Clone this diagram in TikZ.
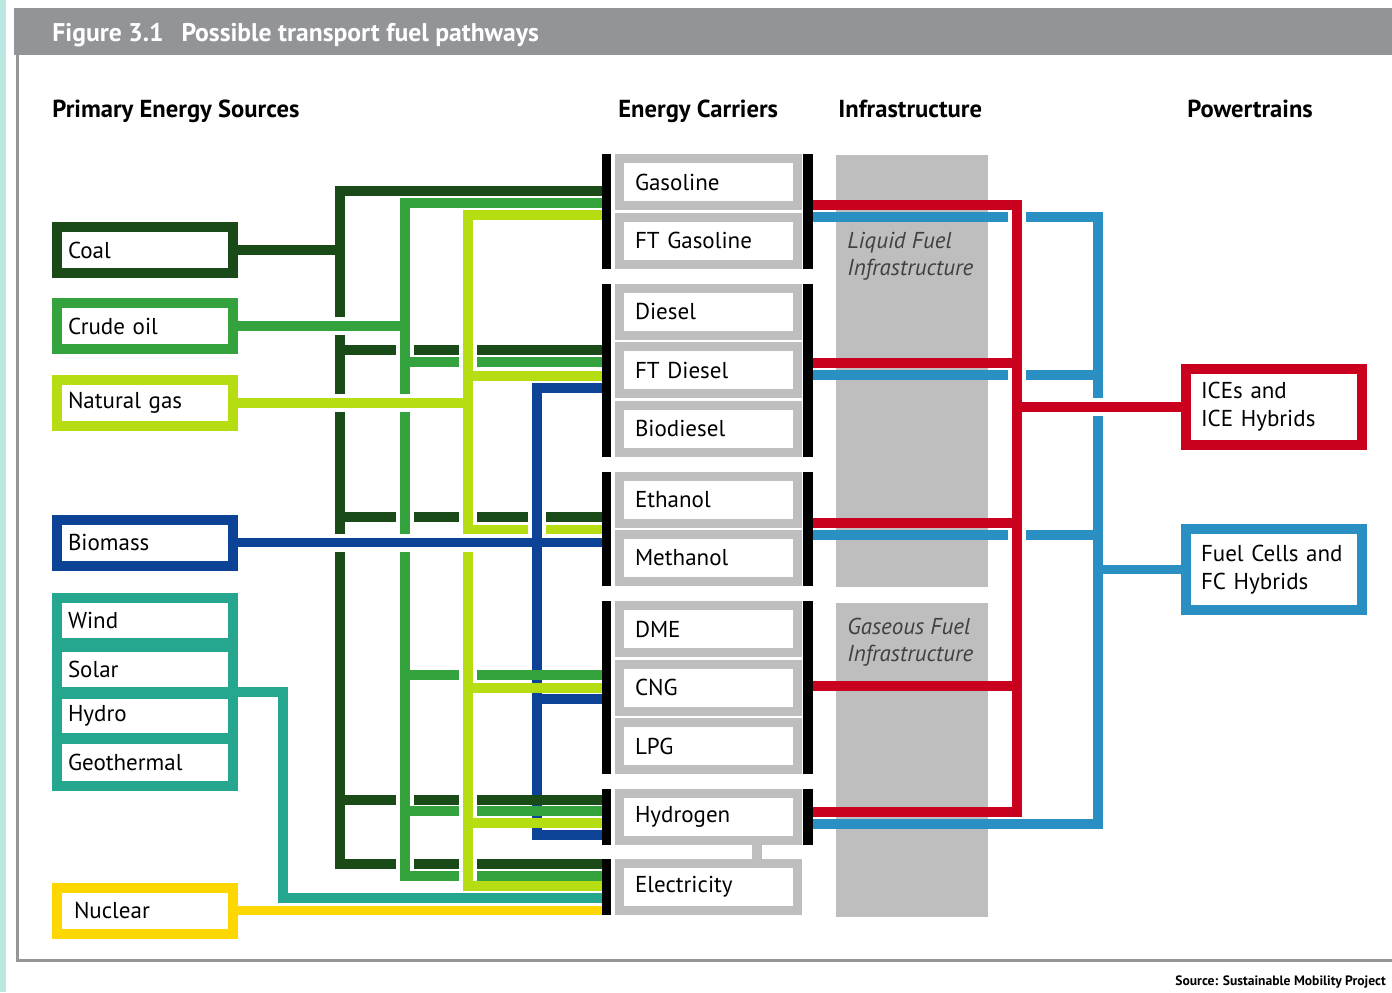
\documentclass[tikz,border=0pt]{standalone}
\usepackage{fontspec}
\setmainfont{PT Sans}
\usetikzlibrary{positioning}

\definecolor{coalgreen}{RGB}{27,74,25}
\definecolor{oilgreen}{RGB}{52,162,61}
\definecolor{gaslime}{RGB}{181,221,18}
\definecolor{biomassblue}{RGB}{12,67,151}
\definecolor{renewteal}{RGB}{37,166,143}
\definecolor{nuclearyellow}{RGB}{255,215,0}
\definecolor{fuelred}{RGB}{201,0,30}
\definecolor{fuelblue}{RGB}{42,143,194}
\definecolor{boxgray}{RGB}{190,190,190}
\definecolor{headgray}{RGB}{147,148,152}
\definecolor{framegray}{RGB}{150,150,152}
\definecolor{stripcyan}{RGB}{188,230,226}

\begin{document}
\begin{tikzpicture}[%
  x=0.5pt, y=-0.5pt,
  every node/.style={font=\fontsize{11.5}{13.5}\selectfont},
  colhead/.style={anchor=base west, inner sep=0pt, font=\bfseries\fontsize{12.3}{14}\selectfont},
  srcbox/.style={draw=#1, line width=5pt, fill=white, minimum width=88pt, minimum height=23pt,
    inner xsep=5.5pt, inner ysep=0pt, text width=77pt, align=left},
  renewable/.style={fill=white, minimum width=83pt, inner xsep=3pt, inner ysep=0pt,
    text width=77pt, align=left, outer sep=0pt},
  carrier/.style={draw=boxgray, line width=4.5pt, fill=white, minimum width=89pt, minimum height=23.5pt,
    inner xsep=7.75pt, inner ysep=0pt, text width=73.5pt, align=left},
  lbar/.style={fill=black, minimum width=4.5pt, inner sep=0pt, outer sep=0pt, anchor=north east},
  rbar/.style={fill=black, minimum width=5pt, inner sep=0pt, outer sep=0pt, anchor=north west},
  infra/.style={fill=boxgray, minimum width=76pt, inner sep=0pt, outer sep=0pt},
  infralabel/.style={anchor=north west, align=left, inner sep=0pt, text=black!75,
    font=\itshape\fontsize{11.5}{13.5}\selectfont},
  powertrain/.style={draw=#1, line width=5pt, fill=white, minimum width=88pt, inner xsep=7.5pt,
    text width=73pt, align=left, font=\fontsize{11.5}{14}\selectfont},
  flow/.style={#1, line width=4.75pt},
  knockout/.style={white, line width=9pt},
]

  \useasboundingbox (0,0) rectangle (1392,992);
  \clip (0,0) rectangle (1392,992);

  % frame
  \fill[white] (0,0) rectangle (1392,992);
  \fill[stripcyan] (0,0) rectangle (6,992);
  \fill[headgray] (14,8) rectangle (1392,55);
  \draw[framegray, line width=1.5pt] (17.5,55) -- (17.5,960) -- (1392,960);

  \node[anchor=base west, inner sep=0pt, text=white, font=\bfseries\fontsize{12.8}{14}\selectfont] (title)
    at (52,41) {Figure 3.1\hspace{0.7em}Possible transport fuel pathways};

  \node[colhead] (hsources) at (52,117) {Primary Energy Sources};
  \node[colhead] (hcarriers) at (618,117) {Energy Carriers};
  \node[colhead] (hinfra) at (838,117) {Infrastructure};
  \node[colhead] (hpower) at (1187,117) {Powertrains};

  % primary energy sources
  \node[srcbox=coalgreen] (coal) at (145,250) {Coal};
  \node[srcbox=oilgreen] (crude) at (145,326) {Crude oil};
  \node[srcbox=gaslime] (natgas) at (145,403) {Natural gas};
  \node[srcbox=biomassblue] (biomass) at (145,542.5) {Biomass};
  \node[fill=renewteal, minimum width=93pt, minimum height=99pt, inner sep=0pt, outer sep=0pt]
    (renew) at (145,692) {};
  \node[renewable, minimum height=17.5pt] (wind) at (145,620.5) {Wind};
  \node[renewable, minimum height=17.5pt] (solar) at (145,669.5) {Solar};
  \node[renewable, minimum height=17pt] (hydro) at (145,716) {Hydro};
  \node[renewable, minimum height=18.5pt] (geo) at (145,762.5) {Geothermal};
  \node[srcbox=nuclearyellow] (nuclear) at (145,910.5) {\hspace{3pt}Nuclear};

  % infrastructure
  \node[infra, minimum height=216pt] (liquid) at (912,371) {};
  \node[infra, minimum height=157pt] (gaseous) at (912,760) {};
  \node[infralabel] (liquidlbl) at ([xshift=5.5pt,yshift=-38.5pt]liquid.north west)
    {Liquid Fuel\\Infrastructure};
  \node[infralabel] (gaseouslbl) at ([xshift=5.5pt,yshift=-7.5pt]gaseous.north west)
    {Gaseous Fuel\\Infrastructure};

  % energy carriers
  \node[carrier] (gasoline) at (708.5,182) {Gasoline};
  \node[carrier, below=1.25pt of gasoline] (ftgasoline) {FT Gasoline};
  \node[carrier, below=7.5pt of ftgasoline] (diesel) {Diesel};
  \node[carrier, below=1.25pt of diesel] (ftdiesel) {FT Diesel};
  \node[carrier, below=1.25pt of ftdiesel] (biodiesel) {Biodiesel};
  \node[carrier, below=7.5pt of biodiesel] (ethanol) {Ethanol};
  \node[carrier, below=1.25pt of ethanol] (methanol) {Methanol};
  \node[carrier, below=7.5pt of methanol] (dme) {DME};
  \node[carrier, below=1.25pt of dme] (cng) {CNG};
  \node[carrier, below=1.25pt of cng] (lpg) {LPG};
  \node[carrier, below=7.5pt of lpg] (hydrogen) {Hydrogen};
  \node[carrier, below=7pt of hydrogen] (electricity) {Electricity};
  \draw[boxgray, line width=5pt] ([xshift=24.25pt]hydrogen.south) -- ([xshift=24.25pt]electricity.north);

  \node[lbar, minimum height=57.25pt] (lb1) at ([xshift=-2pt]gasoline.north west) {};
  \node[lbar, minimum height=86.5pt] (lb2) at ([xshift=-2pt]diesel.north west) {};
  \node[lbar, minimum height=57.25pt] (lb3) at ([xshift=-2pt]ethanol.north west) {};
  \node[lbar, minimum height=86.5pt] (lb4) at ([xshift=-2pt]dme.north west) {};
  \node[lbar, minimum height=28pt] (lb5) at ([xshift=-2pt]hydrogen.north west) {};
  \node[lbar, minimum height=28pt] (lb6) at ([xshift=-2pt]electricity.north west) {};
  \node[rbar, minimum height=57.25pt] (rb1) at ([xshift=0.5pt]gasoline.north east) {};
  \node[rbar, minimum height=86.5pt] (rb2) at ([xshift=0.5pt]diesel.north east) {};
  \node[rbar, minimum height=57.25pt] (rb3) at ([xshift=0.5pt]ethanol.north east) {};
  \node[rbar, minimum height=86.5pt] (rb4) at ([xshift=0.5pt]dme.north east) {};
  \node[rbar, minimum height=28pt] (rb5) at ([xshift=0.5pt]hydrogen.north east) {};

  % powertrains
  \node[powertrain=fuelred, minimum height=38pt] (ice) at (1274,407) {ICEs and\\ICE Hybrids};
  \node[powertrain=fuelblue, minimum height=40.5pt] (fc) at (1274,569.5) {Fuel Cells and\\FC Hybrids};

  \coordinate (inlet) at (lb1.west);
  \coordinate (outlet) at (rb1.east);
  \coordinate (renbus) at (283,0);
  \coordinate (coalbus) at (340,0);
  \coordinate (oilbus) at (405,0);
  \coordinate (gasbus) at (468,0);
  \coordinate (biobus) at (537,0);
  \coordinate (redbus) at (1017,0);
  \coordinate (bluebus) at (1098,0);

  % biomass bus, lower part runs under the others
  \draw[flow=biomassblue] (biobus |- 0,600) |- (inlet |- 0,835);
  \draw[flow=biomassblue] (biobus |- 0,699) -- (inlet |- 0,699);

  % coal
  \draw[flow=coalgreen] (coal.east) -- (coal.east -| coalbus);
  \draw[flow=coalgreen] (inlet |- 0,191) -| (coalbus |- 0,864) -- (inlet |- 0,864);
  \foreach \y in {350,517,800}
    \draw[flow=coalgreen] (coalbus |- 0,\y) -- (inlet |- 0,\y);

  % crude oil
  \draw[knockout] (oilbus |- 0,203) -- (oilbus |- 0,876);
  \draw[flow=oilgreen] (inlet |- 0,203) -| (oilbus |- 0,876) -- (inlet |- 0,876);
  \foreach \y in {362,675,811}
    \draw[flow=oilgreen] (oilbus |- 0,\y) -- (inlet |- 0,\y);

  % natural gas
  \draw[knockout] (gasbus |- 0,215) -- (gasbus |- 0,886);
  \draw[flow=gaslime] (inlet |- 0,215) -| (gasbus |- 0,886) -- (inlet |- 0,886);
  \foreach \y in {376,529.5,688,823}
    \draw[flow=gaslime] (gasbus |- 0,\y) -- (inlet |- 0,\y);

  % biomass bus, upper part
  \draw[knockout] (biobus |- 0,400) -- (biobus |- 0,600);
  \draw[flow=biomassblue] (inlet |- 0,388) -| (biobus |- 0,601);

  % feeds from the sources
  \draw[knockout] (crude.east) -- ([xshift=-5pt]crude.east -| oilbus);
  \draw[flow=oilgreen] (crude.east) -- (crude.east -| oilbus);
  \draw[knockout] (natgas.east) -- ([xshift=-5pt]natgas.east -| gasbus);
  \draw[flow=gaslime] (natgas.east) -- (natgas.east -| gasbus);
  \draw[knockout] (biomass.east) -- ([xshift=-5pt]biomass.east -| biobus);
  \draw[flow=biomassblue] (biomass.east) -- (biomass.east -| inlet);
  \draw[flow=renewteal] (renew.east) -| (renbus |- 0,898) -- (inlet |- 0,898);
  \draw[flow=nuclearyellow] (nuclear.east) -- (nuclear.east -| inlet);

  % carriers to powertrains
  \draw[flow=fuelblue] (outlet |- 0,217) -| (bluebus |- 0,824) -- (outlet |- 0,824);
  \foreach \y in {375,535}
    \draw[flow=fuelblue] (outlet |- 0,\y) -- (bluebus |- 0,\y);
  \draw[flow=fuelblue] (fc.west -| bluebus) -- (fc.west);

  \draw[knockout] (redbus |- 0,205) -- (redbus |- 0,812);
  \draw[flow=fuelred] (outlet |- 0,205) -| (redbus |- 0,812) -- (outlet |- 0,812);
  \foreach \y in {363,523,686}
    \draw[flow=fuelred] (outlet |- 0,\y) -- (redbus |- 0,\y);
  \draw[knockout] ([xshift=5pt]ice.west -| redbus) -- (ice.west);
  \draw[flow=fuelred] (ice.west -| redbus) -- (ice.west);

  \node[anchor=base west, inner sep=0pt, font=\bfseries\fontsize{6.8}{8}\selectfont] (credit)
    at (1175,985) {Source: Sustainable Mobility Project};

\end{tikzpicture}
\end{document}
